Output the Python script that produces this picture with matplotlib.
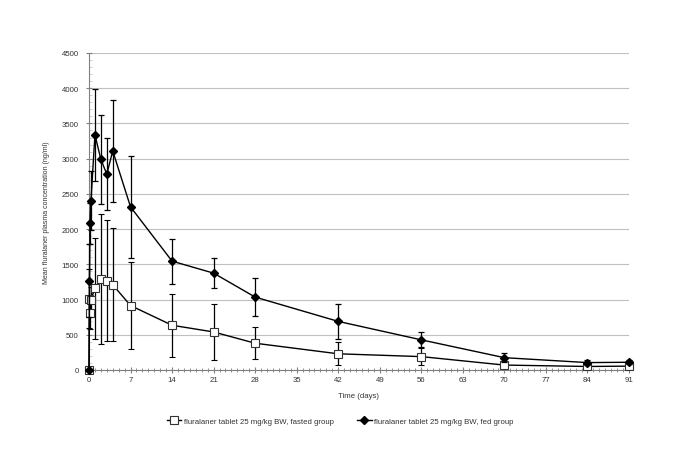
import matplotlib
matplotlib.use("Agg")
import matplotlib.pyplot as plt
from matplotlib.ticker import MultipleLocator
from matplotlib.lines import Line2D

plt.rcParams['font.family'] = ['Liberation Sans', 'DejaVu Sans']

# Time points (days)
fasted_t = [0, 0.083, 0.17, 0.33, 1, 2, 3, 4, 7, 14, 21, 28, 42, 56, 70, 84, 91]
fasted_mean = [0, 1010, 815, 1000, 1160, 1290, 1270, 1210, 915, 635, 540, 380, 230, 190, 70, 50, 55]
fasted_sd = [0, 420, 240, 180, 720, 920, 860, 800, 615, 445, 400, 225, 165, 120, 40, 20, 20]

fed_t = [0, 0.083, 0.17, 0.33, 1, 2, 3, 4, 7, 14, 21, 28, 42, 56, 70, 84, 91]
fed_mean = [0, 1270, 2085, 2405, 3340, 2990, 2780, 3110, 2315, 1545, 1375, 1035, 690, 428, 175, 105, 110]
fed_sd = [0, 520, 290, 420, 650, 630, 510, 720, 720, 320, 215, 270, 250, 105, 65, 30, 30]

x_ticks = [0, 7, 14, 21, 28, 35, 42, 49, 56, 63, 70, 77, 84, 91]
y_ticks = list(range(0, 4501, 500))

fs = 5.6
tc = '#333333'

fig = plt.figure(figsize=(6.85, 4.77), dpi=100)
ax = fig.add_axes([89/685, 1-371/477, (629-89)/685, (371-54)/477])

gray = '#808080'
sq_kw = dict(marker='s', markersize=5.5, markerfacecolor='white', markeredgecolor='#333333',
             markeredgewidth=0.8)
dm_kw = dict(marker='D', markersize=3.8, markerfacecolor='black', markeredgecolor='black')

c1 = ax.errorbar(fasted_t, fasted_mean, yerr=fasted_sd, color='black', lw=1.0,
                 ecolor='black', elinewidth=0.9, capsize=2, capthick=0.9, zorder=3, **sq_kw)
c2 = ax.errorbar(fed_t, fed_mean, yerr=fed_sd, color='black', lw=1.0,
                 ecolor='black', elinewidth=0.9, capsize=2, capthick=0.9, zorder=4, **dm_kw)
for c in (c1, c2):
    for art in c.get_children():
        art.set_clip_on(False)

ax.set_xlim(0, 91)
ax.set_ylim(0, 4500)
ax.set_xticks(x_ticks)
ax.set_yticks(y_ticks)
ax.xaxis.set_minor_locator(MultipleLocator(1))
ax.yaxis.set_minor_locator(MultipleLocator(100))
ax.yaxis.grid(True, which='major', color='#c0c0c0', lw=0.8)
ax.set_axisbelow(True)
for s in ['top', 'right']:
    ax.spines[s].set_visible(False)
for s in ['left', 'bottom']:
    ax.spines[s].set_color(gray)
    ax.spines[s].set_linewidth(0.8)
ax.tick_params(axis='x', which='major', direction='inout', length=5, color=gray,
               labelsize=fs, labelcolor=tc, pad=2)
ax.tick_params(axis='x', which='minor', direction='inout', length=3, color=gray)
ax.tick_params(axis='y', which='major', direction='inout', length=5, color=gray,
               labelsize=fs, labelcolor=tc, pad=5)
ax.tick_params(axis='y', which='minor', direction='in', length=2, width=0.6, color='#c8c8c8')

ax.set_xlabel('Time (days)', fontsize=fs, color=tc, labelpad=6)
ax.set_ylabel('Mean fluralaner plasma concentration (ng/ml)', fontsize=5.0, color=tc, labelpad=8)

handles = [Line2D([], [], color='black', lw=1.0, **sq_kw),
           Line2D([], [], color='black', lw=1.0, **dm_kw)]
labels = ['fluralaner tablet 25 mg/kg BW, fasted group',
          'fluralaner tablet 25 mg/kg BW, fed group']
fig.legend(handles, labels, loc='center', bbox_to_anchor=(340/685, 1-422/477), ncol=2,
           frameon=False, fontsize=fs, handlelength=1.9, handletextpad=0.3,
           columnspacing=3.0, labelcolor=tc)

fig.savefig('out.png', dpi=100)
